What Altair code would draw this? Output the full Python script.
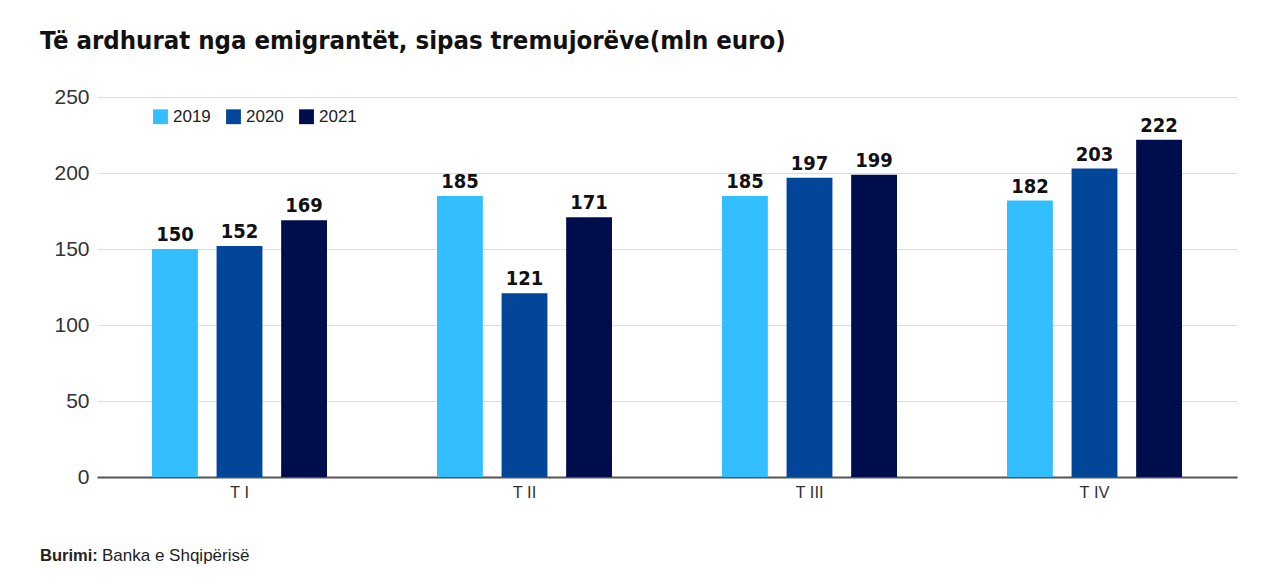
import altair as alt
import pandas as pd

quarters = ["T I", "T II", "T III", "T IV"]
years = ["2019", "2020", "2021"]
v2019 = [150, 185, 185, 182]
v2020 = [152, 121, 197, 203]
v2021 = [169, 171, 199, 222]
colors = ["#33bfff", "#02469a", "#000d4c"]

rows = []
for i, q in enumerate(quarters):
    for y, vals in zip(years, [v2019, v2020, v2021]):
        rows.append({"q": q, "year": y, "value": vals[i]})
df = pd.DataFrame(rows)

W, H = 1140, 395
cond = "Liberation Sans Narrow, DejaVu Sans Condensed, Arial Narrow, Liberation Sans, sans-serif"
base_font = "Liberation Sans, Arial, sans-serif"

x = alt.X("q:N", sort=quarters, title=None,
          scale=alt.Scale(paddingInner=0.386, paddingOuter=0.193),
          axis=alt.Axis(labelAngle=0, labelFont=base_font, labelFontSize=16.5,
                        labelColor="#333", ticks=False, domain=True,
                        domainColor="#555", domainWidth=2, labelPadding=7))
xo = alt.XOffset("year:N", sort=years, scale=alt.Scale(paddingInner=0.29, paddingOuter=0))
y = alt.Y("value:Q", title=None,
          scale=alt.Scale(domain=[0, 250]),
          axis=alt.Axis(values=[0, 50, 100, 150, 200, 250], ticks=False, domain=False,
                        gridColor="#dedede", gridWidth=1.2,
                        labelFont=base_font, labelFontSize=21, labelColor="#333",
                        labelPadding=8))

bars = alt.Chart(df).mark_bar().encode(
    x=x, xOffset=xo, y=y,
    color=alt.Color("year:N", sort=years,
                    scale=alt.Scale(domain=years, range=colors),
                    legend=alt.Legend(title=None, orient="none", legendX=55, legendY=26,
                                      direction="horizontal", symbolType="square",
                                      symbolSize=220, symbolStrokeWidth=0,
                                      labelFont=base_font, labelFontSize=17,
                                      labelColor="#222", columnPadding=14,
                                      symbolOpacity=1)),
)

labels = alt.Chart(df).mark_text(dy=-14, font=cond, fontSize=20, fontWeight="bold",
                                 color="#111").encode(
    x=alt.X("q:N", sort=quarters), xOffset=alt.XOffset("year:N", sort=years),
    y="value:Q", text="value:Q")

src_bold = alt.Chart(pd.DataFrame({"t": ["Burimi:"]})).mark_text(
    align="left", baseline="middle", font=base_font, fontSize=16.5, fontWeight="bold",
    color="#222").encode(x=alt.value(-57), y=alt.value(H + 79), text="t:N")
src_rest = alt.Chart(pd.DataFrame({"t": ["Banka e Shqipërisë"]})).mark_text(
    align="left", baseline="middle", font=base_font, fontSize=17,
    color="#222").encode(x=alt.value(5), y=alt.value(H + 79), text="t:N")

chart = alt.layer(bars, labels, src_bold, src_rest).properties(
    width=W, height=H,
    title=alt.TitleParams("Të ardhurat nga emigrantët, sipas tremujorëve(mln euro)",
                          anchor="start", frame="group", dx=-57, offset=28,
                          font=cond, fontSize=25.5, fontWeight="bold", color="#111"),
    padding={"left": 32, "top": 20, "right": 5, "bottom": 2},
).configure_view(stroke=None).configure_axisX(grid=False)

chart.save("out.html", embed_options={"renderer": "svg", "actions": False})
